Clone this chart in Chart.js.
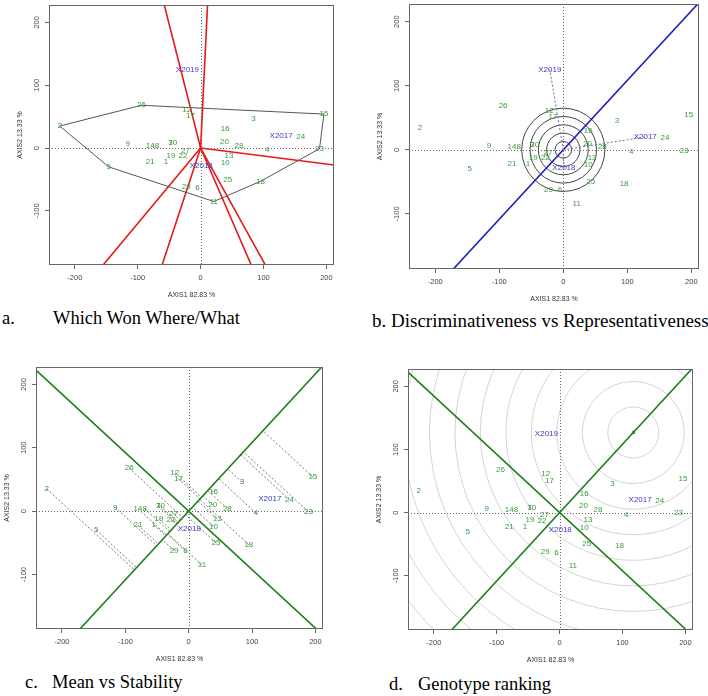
<!DOCTYPE html>
<html>
<head>
<meta charset="utf-8">
<script src="https://cdn.jsdelivr.net/npm/chart.js@4.4.1/dist/chart.umd.min.js"></script>
<style>
  body { margin: 0; width: 708px; height: 696px; background: #fff; position: relative; overflow: hidden; }
  canvas { position: absolute; }
  .cap { position: absolute; font-family: 'Liberation Serif', 'Times New Roman', serif; font-size: 18.5px; line-height: 18.5px; color: #000; white-space: nowrap; }
</style>
</head>
<body>
<canvas id="chartA" width="327" height="301" style="left:13px;top:0px"></canvas>
<canvas id="chartB" width="332" height="305" style="left:373px;top:0px"></canvas>
<canvas id="chartC" width="329" height="305" style="left:0px;top:360px"></canvas>
<canvas id="chartD" width="327" height="304" style="left:372px;top:362px"></canvas>

<div class="cap" style="left:2px;top:309px">a.</div>
<div class="cap" style="left:53px;top:309px">Which Won Where/What</div>
<div class="cap" style="left:372px;top:312px;font-size:19px">b. Discriminativeness vs Representativeness</div>
<div class="cap" style="left:25px;top:673px">c.</div>
<div class="cap" style="left:52px;top:673px">Mean vs Stability</div>
<div class="cap" style="left:389px;top:675px">d.</div>
<div class="cap" style="left:418px;top:675px">Genotype ranking</div>

<script>
// genotype scores (AXIS1 = PC1, AXIS2 = PC2)
const genotypes = ['1','2','3','4','5','6','7','8','9','10','11','12','13','14','15',
                   '16','17','18','19','20','21','22','23','24','25','26','27','28','29','30'];
const genoAxis1 = [-55, -224, 84, 106, -146, -5, -48, -69.5, -116, 39, 21, -22, 45, -80, 196,
                   39, -16, 95, -47, 38, -80, -28, 189, 159, 43, -94, -24, 61, -23, -44.5];
const genoAxis2 = [-22, 35, 46, -3, -30, -63, 8, 4, 6, -24, -85, 61, -12, 4, 54,
                   30, 51, -53, -12, 10, -22, -13, -1, 18, -50, 68, -4, 4, -62, 8];

// environment scores
const environments = ['X2017', 'X2018', 'X2019'];
const envAxis1 = [128, 1, -21];
const envAxis2 = [20, -28, 125];

// polygon vertices for which-won-where
const hullOrder = ['2', '26', '15', '23', '18', '11', '5'];

// concentric rings (AXIS units)
const discRings = [13, 26, 39, 52, 65];
const rankRings = [40.5, 81, 121.5, 162, 202.5, 243, 283.5, 324, 364.5, 405, 445.5, 486];

const xTicks = [-200, -100, 0, 100, 200];
const yTicks = [-100, 0, 100, 200];
const xRange = [-241, 212];
const yRange = [-186, 227.5];

const GREEN_TXT = '#3a9a3a';
const BLUE_TXT = '#3b3bc4';
const LINE_GREEN = '#1f7f1f';

const genoPts = genotypes.map((g, i) => ({x: genoAxis1[i], y: genoAxis2[i]}));
const envPts = environments.map((e, i) => ({x: envAxis1[i], y: envAxis2[i]}));
const ptOf = name => genoPts[genotypes.indexOf(name)];

// average environment axis
const envMean = {
  x: envAxis1.reduce((a, b) => a + b, 0) / envAxis1.length,
  y: envAxis2.reduce((a, b) => a + b, 0) / envAxis2.length
};
const len = Math.hypot(envMean.x, envMean.y);
const u = {x: envMean.x / len, y: envMean.y / len};
const far = 700;

// ideal genotype: on the ATC axis at the longest genotype projection
const maxProj = Math.max(...genoPts.map(p => p.x * u.x + p.y * u.y));
const ideal = {x: u.x * maxProj, y: u.y * maxProj};

function lineSet(data, color, width, dash) {
  return {data, showLine: true, borderColor: color, borderWidth: width, borderDash: dash || [],
          pointRadius: 0, fill: false, tension: 0};
}
function labelSet(pts, names, color) {
  return {data: pts, pointRadius: 0, showLine: false, textLabels: names, textColor: color};
}

const biplotPlugin = {
  id: 'biplot',
  beforeDatasetsDraw(chart, args, opts) {
    const {ctx, chartArea: a, scales: {x, y}} = chart;
    ctx.save();
    ctx.beginPath();
    ctx.rect(a.left, a.top, a.width, a.height);
    ctx.clip();
    if (opts.rings) {
      const r = opts.rings;
      const cx = x.getPixelForValue(r.cx), cy = y.getPixelForValue(r.cy);
      ctx.strokeStyle = r.color;
      ctx.lineWidth = 1;
      r.radii.forEach(rad => {
        const rx = Math.abs(x.getPixelForValue(r.cx + rad) - cx);
        const ry = Math.abs(y.getPixelForValue(r.cy + rad) - cy);
        ctx.beginPath();
        ctx.ellipse(cx, cy, rx, ry, 0, 0, Math.PI * 2);
        ctx.stroke();
      });
    }
    const x0 = Math.round(x.getPixelForValue(0)) + 0.5;
    const y0 = Math.round(y.getPixelForValue(0)) + 0.5;
    ctx.strokeStyle = '#666';
    ctx.lineWidth = 1;
    ctx.setLineDash([1, 2]);
    ctx.beginPath();
    ctx.moveTo(a.left, y0); ctx.lineTo(a.right, y0);
    ctx.moveTo(x0, a.top); ctx.lineTo(x0, a.bottom);
    ctx.stroke();
    ctx.restore();
  },
  afterDatasetsDraw(chart) {
    const ctx = chart.ctx;
    chart.data.datasets.forEach((ds, i) => {
      if (!ds.textLabels) return;
      const meta = chart.getDatasetMeta(i);
      ctx.save();
      ctx.font = '8px "Liberation Sans", Arial, sans-serif';
      ctx.fillStyle = ds.textColor;
      ctx.textAlign = 'center';
      ctx.textBaseline = 'middle';
      meta.data.forEach((el, j) => ctx.fillText(ds.textLabels[j], el.x, el.y));
      ctx.restore();
    });
  },
  afterDraw(chart) {
    const {ctx, chartArea: a} = chart;
    ctx.save();
    ctx.strokeStyle = '#666';
    ctx.lineWidth = 1;
    ctx.strokeRect(Math.round(a.left) + 0.5, Math.round(a.top) + 0.5,
                   Math.round(a.width) - 1, Math.round(a.height) - 1);
    ctx.restore();
  }
};
Chart.register(biplotPlugin);

function makeChart(id, datasets, topPad, plugOpts) {
  const tickFont = {family: 'Liberation Sans', size: 7.5};
  const titleFont = {family: 'Liberation Sans', size: 7};
  return new Chart(document.getElementById(id), {
    type: 'scatter',
    data: {datasets},
    options: {
      responsive: false,
      animation: false,
      events: [],
      layout: {padding: {top: topPad, right: 6, left: 0, bottom: 0}},
      plugins: {legend: {display: false}, tooltip: {enabled: false}, biplot: plugOpts || {}},
      scales: {
        x: {
          type: 'linear', min: xRange[0], max: xRange[1],
          afterBuildTicks: s => { s.ticks = xTicks.map(v => ({value: v})); },
          afterFit: s => { s.height = 36; s.paddingLeft = 0; s.paddingRight = 0; },
          grid: {drawOnChartArea: false, tickLength: 4, tickColor: '#666'},
          border: {display: false},
          ticks: {font: tickFont, color: '#444', padding: 4, maxRotation: 0, autoSkip: false},
          title: {display: true, text: 'AXIS1 82.83 %', font: titleFont, color: '#333', padding: {top: 0, bottom: 2}}
        },
        y: {
          type: 'linear', min: yRange[0], max: yRange[1],
          afterBuildTicks: s => { s.ticks = yTicks.map(v => ({value: v})); },
          afterFit: s => { s.width = 36; s.paddingTop = 0; s.paddingBottom = 0; },
          grid: {drawOnChartArea: false, tickLength: 4, tickColor: '#666'},
          border: {display: false},
          ticks: {font: tickFont, color: '#444', padding: 1, minRotation: 90, maxRotation: 90,
                  crossAlign: 'center', autoSkip: false},
          title: {display: true, text: 'AXIS2 13.33 %', font: titleFont, color: '#333', padding: {top: 3, bottom: 0}}
        }
      }
    }
  });
}

// a. which won where: polygon + perpendicular rays
const hullPts = hullOrder.map(ptOf);
const rays = hullPts.map((p, i) => {
  const q = hullPts[(i + 1) % hullPts.length];
  const dx = q.x - p.x, dy = q.y - p.y;
  const t = -(p.x * dx + p.y * dy) / (dx * dx + dy * dy);
  const fx = p.x + t * dx, fy = p.y + t * dy;
  const fl = Math.hypot(fx, fy);
  return lineSet([{x: 0, y: 0}, {x: fx / fl * far, y: fy / fl * far}], '#e31a1c', 1.6);
});
makeChart('chartA', [
  lineSet(hullPts.concat([hullPts[0]]), '#555', 1),
  ...rays,
  labelSet(genoPts, genotypes, GREEN_TXT),
  labelSet(envPts, environments, BLUE_TXT)
], 5);

// b. discriminativeness vs representativeness
makeChart('chartB', [
  ...envPts.map(p => lineSet([{x: 0, y: 0}, p], '#6a6aa8', 1, [2, 2])),
  lineSet([{x: -u.x * far, y: -u.y * far}, {x: u.x * far, y: u.y * far}], '#1f1fbf', 1.6),
  labelSet(genoPts, genotypes, GREEN_TXT),
  labelSet(envPts, environments, BLUE_TXT)
], 4, {rings: {cx: 0, cy: 0, radii: discRings, color: '#444'}});

// c. mean vs stability: ATC axes + projections
const atc = lineSet([{x: -u.x * far, y: -u.y * far}, {x: u.x * far, y: u.y * far}], LINE_GREEN, 1.6);
const atcPerp = lineSet([{x: u.y * far, y: -u.x * far}, {x: -u.y * far, y: u.x * far}], LINE_GREEN, 1.6);
const projData = [];
genoPts.forEach(p => {
  const d = p.x * u.x + p.y * u.y;
  projData.push(p, {x: d * u.x, y: d * u.y}, {x: d * u.x, y: null});
});
const projSet = lineSet(projData, '#555', 0.8, [2, 2]);
projSet.spanGaps = false;
makeChart('chartC', [
  projSet, atc, atcPerp,
  labelSet(genoPts, genotypes, GREEN_TXT),
  labelSet(envPts.slice(0, 2), environments.slice(0, 2), BLUE_TXT)
], 7);

// d. genotype ranking
makeChart('chartD', [
  lineSet([{x: -u.x * far, y: -u.y * far}, {x: u.x * far, y: u.y * far}], LINE_GREEN, 1.6),
  lineSet([{x: u.y * far, y: -u.x * far}, {x: -u.y * far, y: u.x * far}], LINE_GREEN, 1.6),
  {data: [ideal], pointStyle: 'triangle', pointRadius: 2.5, backgroundColor: LINE_GREEN, borderColor: LINE_GREEN, borderWidth: 0},
  labelSet(genoPts, genotypes, GREEN_TXT),
  labelSet(envPts, environments, BLUE_TXT)
], 7, {rings: {cx: ideal.x, cy: ideal.y, radii: rankRings, color: '#d4d4d4'}});
</script>
</body>
</html>
